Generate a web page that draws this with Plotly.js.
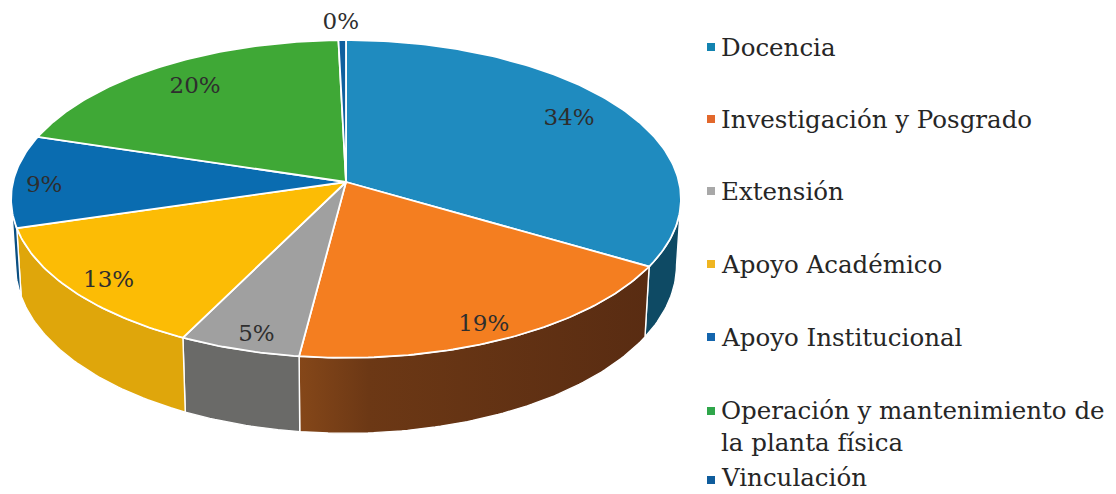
<!DOCTYPE html>
<html>
<head>
<meta charset="utf-8">
<script src="https://cdn.plot.ly/plotly-3.0.1.min.js"></script>
<style>html,body{margin:0;padding:0;background:#fff;overflow:hidden}</style>
</head>
<body>
<div id="chart" style="width:1116px;height:494px"></div>
<script>
// DATA
const categories = ["Docencia","Investigación y Posgrado","Extensión","Apoyo Académico","Apoyo Institucional","Operación y mantenimiento de<br>la planta física","Vinculación"];
const values = [33.5,18.51,5.29,13.1,9.4,19.8,0.4];

// STYLE
const topColors  = ["#1f8bbf","#f47e20","#a0a0a0","#fcbc05","#0a6cb0","#3fa836","#0f5f9e"];
const sideColors = ["#0e4a64","#5f3013","#6a6a68","#dfa60b","#0a4f82","#256b20","#0a4570"];
const legendColors = ["#1283b0","#e2682c","#a8a8a8","#efb521","#1465ad","#2fa64a","#0f5c9c"];
const legendY = [47,119,191,264,337,426,477];
const legendKeyY = [47,119,191,264,337,411,480];
const labelRadii = [0.83,0.92,0.92,0.89,0.91,0.82,1.13];
const labelDx = [-7,-10,8,4,1,3,-1];
const labelDy = [-1,1,1,3,5,1,0];
const fontFam = '"DejaVu Serif", serif';
const cx=346, cy=182, R=333, S=157, k=0.107;
const total = values.reduce((a,b)=>a+b,0);

// perspective projection of a point on the pie (r = radius share, f = share of the turn)
function project(f,r){
  const t=2*Math.PI*f, u=r*Math.sin(t), v=r*Math.cos(t), w=1+k*v;
  return [cx+R*u/w, cy-S*v/w];
}
function lower(f){
  const t=2*Math.PI*f, v=Math.cos(t), p=project(f,0.987);
  return [p[0], p[1]+64+13*Math.max(0,-v)+(v<0?1:0)];
}
function arc(f0,f1,fn){
  const n=Math.max(2,Math.ceil((f1-f0)*400)), pts=[];
  for(let i=0;i<=n;i++) pts.push(fn(f0+(f1-f0)*i/n));
  return pts;
}
const fVisA=Math.acos(-k)/(2*Math.PI), fVisB=1-fVisA;

const traces=[]; let c=0;
const bounds=values.map(v=>{const a=c/total; c+=v; return [a,c/total];});

// side walls
bounds.forEach(([a,b],i)=>{
  const f0=Math.max(a,fVisA), f1=Math.min(b,fVisB);
  if(f1<=f0) return;
  const up=arc(f0,f1,f=>project(f,1)), lo=arc(f0,f1,lower).reverse();
  const poly=up.concat(lo); poly.push(up[0]);
  const tr={type:"scatter",mode:"lines",x:poly.map(p=>p[0]),y:poly.map(p=>p[1]),fill:"toself",
    fillcolor:sideColors[i],line:{color:"#ffffff",width:1.4},hoverinfo:"skip",showlegend:false};
  if(i===1){ tr.fillgradient={type:"horizontal",colorscale:[[0,"#854719"],[0.2,"#6c3815"],[1,"#592c12"]]}; }
  traces.push(tr);
});
// top slices
bounds.forEach(([a,b],i)=>{
  const pts=[[cx,cy]].concat(arc(a,b,f=>project(f,1)));pts.push([cx,cy]);
  traces.push({type:"scatter",mode:"lines",x:pts.map(p=>p[0]),y:pts.map(p=>p[1]),fill:"toself",
    fillcolor:topColors[i],line:{color:"#ffffff",width:1.8},name:categories[i],hoverinfo:"name",showlegend:false});
});
// percentage labels
const lab=bounds.map(([a,b],i)=>project((a+b)/2,labelRadii[i]));
traces.push({type:"scatter",mode:"text",x:lab.map((p,i)=>p[0]+labelDx[i]),y:lab.map((p,i)=>p[1]+labelDy[i]),
  text:values.map(v=>Math.round(v/total*100)+"%"),textposition:"middle center",
  textfont:{family:fontFam,size:23,color:"#2e2e2e"},hoverinfo:"skip",showlegend:false,cliponaxis:false});
// legend keys
traces.push({type:"scatter",mode:"markers",x:legendKeyY.map(()=>711),y:legendKeyY,
  marker:{symbol:"square",size:8,color:legendColors},hoverinfo:"skip",showlegend:false});

const annotations=categories.map((t,i)=>({x:719,y:legendY[i],xref:"x",yref:"y",text:t,showarrow:false,
  xanchor:"left",yanchor:"middle",align:"left",font:{family:fontFam,size:24.5,color:"#262626"}}));

Plotly.newPlot("chart",traces,{
  width:1116,height:494,margin:{l:0,r:0,t:0,b:0},paper_bgcolor:"#fff",plot_bgcolor:"#fff",
  xaxis:{range:[0,1116],visible:false,fixedrange:true},
  yaxis:{range:[494,0],visible:false,fixedrange:true},
  annotations:annotations,showlegend:false
},{displayModeBar:false,staticPlot:true});
</script>
</body>
</html>
